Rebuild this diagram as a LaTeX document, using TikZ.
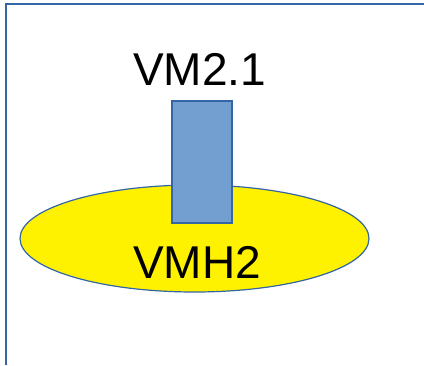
\documentclass[tikz,border=0pt]{standalone}
\usepackage{fontspec}
\setmainfont{Liberation Sans}
\usetikzlibrary{shapes.geometric}
\definecolor{lineblue}{HTML}{3465A4}
\definecolor{vmblue}{HTML}{729FCF}
\tikzset{
    host/.style={ellipse, draw=lineblue, line width=1.2pt, fill=yellow, minimum width=349pt, minimum height=107pt, inner sep=0pt},
    vmbox/.style={rectangle, draw=lineblue, line width=2pt, fill=vmblue, minimum width=60pt, minimum height=122pt, inner sep=0pt},
    bigtext/.style={font=\fontsize{46}{50}\selectfont, inner sep=0pt, anchor=base}
}
\begin{document}
\begin{tikzpicture}[x=1pt,y=-1pt]
            \useasboundingbox (0,0) rectangle (424,365);
            \coordinate (P) at (5.5,365);
            \coordinate (Q) at (5.5,4);
            \coordinate (R) at (424,4);
            \draw[lineblue, line width=2pt] (P)--(Q)--(R);
            \node[host] (H) at (194.5,238.5) {};
            \node[vmbox] (V) at (202,162) {};
            \node[bigtext] (VL) at (199.5,85) {VM2.1};
            \node[bigtext] (HL) at (197,278) {VMH2};
        \end{tikzpicture}
\end{document}
